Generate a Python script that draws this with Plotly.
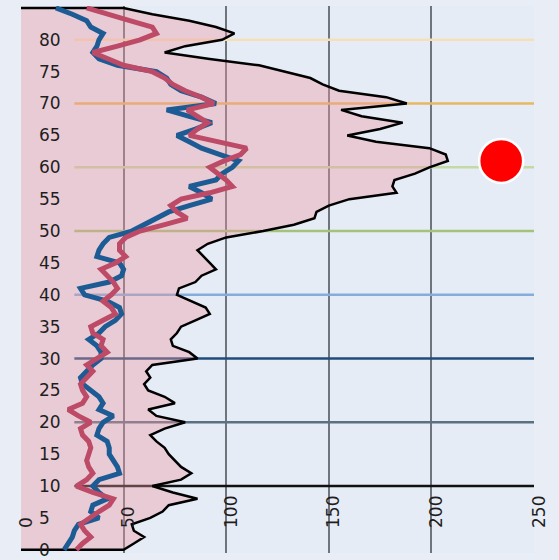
import plotly.graph_objects as go

# ages 0..85 (one point per year)
age = list(range(0, 86))

total = [50, 55, 60, 55, 54, 63, 69, 72, 86, 74,
         64, 78, 83, 78, 75, 72, 70, 66, 63, 70,
         80, 66, 62, 75, 70, 62, 60, 63, 61, 64,
         86, 82, 74, 73, 76, 78, 85, 92, 90, 83,
         76, 77, 85, 88, 95, 92, 89, 86, 91, 100,
         118, 133, 143, 144, 150, 160, 183, 181, 182, 192,
         199, 208, 207, 199, 173, 159, 175, 186, 166, 156,
         188, 178, 155, 147, 141, 128, 116, 92, 70, 80,
         98, 104, 95, 82, 64, 50]

blue = [21, 23, 25, 26, 28, 38, 34, 35, 42, 38,
        35, 38, 48, 47, 45, 43, 43, 42, 37, 38,
        40, 45, 38, 40, 38, 34, 30, 29, 32, 35,
        39, 39, 37, 33, 38, 41, 46, 49, 48, 42,
        31, 29, 43, 49, 50, 48, 37, 38, 40, 43,
        54, 60, 67, 72, 82, 93, 88, 82, 95, 98,
        103, 106, 97, 88, 82, 76, 85, 93, 82, 71,
        95, 88, 78, 73, 71, 66, 47, 38, 35, 37,
        38, 40, 34, 32, 25, 17]

red = [27, 30, 34, 31, 29, 33, 38, 43, 45, 35,
       27, 32, 35, 33, 32, 33, 34, 33, 30, 29,
       34, 28, 23, 30, 32, 30, 29, 32, 35, 32,
       37, 42, 39, 40, 35, 34, 40, 46, 44, 40,
       44, 47, 45, 42, 39, 46, 51, 48, 48, 51,
       58, 70, 81, 76, 73, 78, 92, 103, 100, 96,
       92, 99, 107, 110, 96, 82, 86, 91, 86, 81,
       94, 88, 80, 74, 70, 64, 50, 42, 35, 47,
       58, 66, 64, 53, 43, 32]

age_ticks = [0, 5, 10, 15, 20, 25, 30, 35, 40, 45, 50, 55, 60, 65, 70, 75, 80]

# reference lines every 10 years
line_ages = [10, 20, 30, 40, 50, 60, 70, 80]
line_colors = ["#111111", "#5a7184", "#1f4c7a", "#84addb",
               "#a3c27a", "#c4daa6", "#e7b862", "#f5dfb8"]
line_start = 26

point_x = [234]
point_y = [61]

fig = go.Figure()

# total outline, closed back to x=0
fig.add_trace(go.Scatter(
    x=[0] + total + [0],
    y=[age[0]] + age + [age[-1]],
    mode="lines",
    fill="toself",
    fillcolor="rgba(236,150,160,0.38)",
    line=dict(color="black", width=2.5),
    hoverinfo="skip",
    showlegend=False
))

fig.add_trace(go.Scatter(
    x=blue, y=age, mode="lines",
    line=dict(color="#1c5b94", width=5),
    showlegend=False
))

fig.add_trace(go.Scatter(
    x=red, y=age, mode="lines",
    line=dict(color="#bd4a66", width=5),
    showlegend=False
))

fig.add_trace(go.Scatter(
    x=point_x, y=point_y, mode="markers",
    marker=dict(color="red", size=44, line=dict(color="white", width=2.5)),
    showlegend=False
))

for a, c in zip(line_ages, line_colors):
    fig.add_shape(
        type="line", xref="x", yref="y",
        x0=line_start, x1=250, y0=a, y1=a,
        line=dict(color=c, width=2.5),
        layer="between"
    )

fig.update_layout(
    width=559,
    height=560,
    margin=dict(l=21, r=25, t=6, b=7, autoexpand=False),
    paper_bgcolor="#e9eef6",
    plot_bgcolor="#e6ecf5",
    font=dict(family="DejaVu Sans", size=17, color="#1e1e1e"),
    showlegend=False,
    xaxis=dict(
        range=[0, 250],
        dtick=50,
        side="top",
        anchor="free",
        position=0,
        tickangle=-90,
        ticks="",
        ticklabelstandoff=25,
        ticklabelshift=5,
        showgrid=True,
        gridcolor="#6f757c",
        gridwidth=2,
        zeroline=False,
        showline=False,
        automargin=False
    ),
    yaxis=dict(
        range=[-0.5, 85.3],
        tickvals=age_ticks,
        side="right",
        anchor="free",
        position=0,
        ticks="",
        ticklabelstandoff=17,
        showgrid=False,
        zeroline=False,
        showline=False,
        automargin=False
    )
)

# drop the browser's default body margin so the figure sits at the page corner
fig.write_html(
    "out.html",
    config={"displayModeBar": False},
    post_script="document.body.style.margin='0';"
)
